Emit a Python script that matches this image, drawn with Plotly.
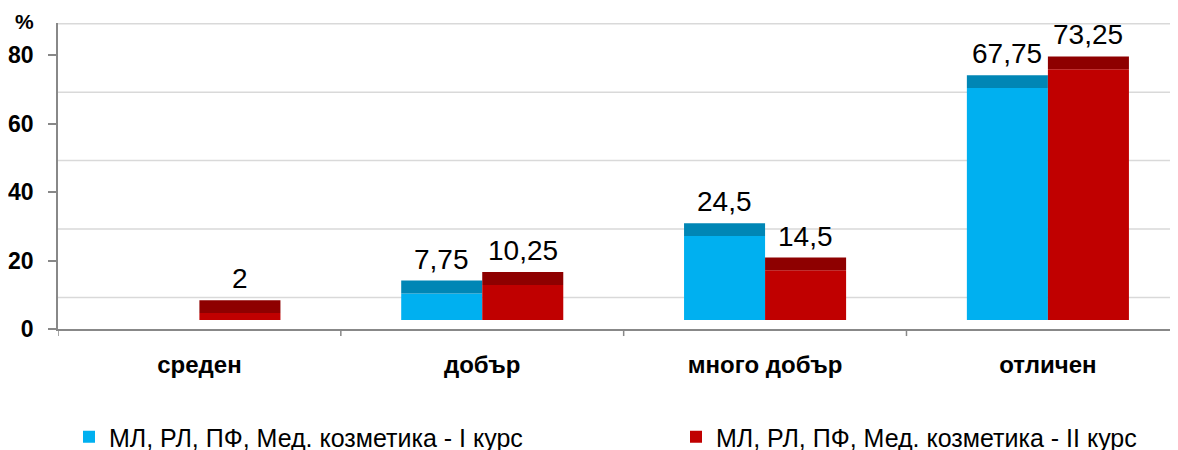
import plotly.graph_objects as go

categories = ["среден", "добър", "много добър", "отличен"]
series_names = ["МЛ, РЛ, ПФ, Мед. козметика - I курс", "МЛ, РЛ, ПФ, Мед. козметика - II курс"]
course1 = [0, 7.75, 24.5, 67.75]
course2 = [2, 10.25, 14.5, 73.25]
y_ticks = [0, 20, 40, 60, 80]

front_colors = ["#00B0F0", "#C00000"]
top_colors = ["#0086B5", "#8E0000"]

BASE = 2.64      # 3D floor offset
TOP = 3.75       # depth of the top face
GRID_OFF = 9.2   # back-wall gridline offset
W = 0.2865
YMAX = 89.4
LABEL_FONT = "Liberation Sans"

# the page body has an 8px margin; the figure is sized/placed to compensate
PAD = 8
FIG_W, FIG_H = 1178 - PAD, 450 - PAD

fig = go.Figure()
idx = list(range(len(categories)))
legend_ids = ["legend", "legend2"]
for s, (vals, name) in enumerate(zip([course1, course2], series_names)):
    off = -W if s == 0 else 0
    fig.add_trace(go.Bar(
        x=idx, y=[v if v > 0 else None for v in vals], base=[BASE] * len(vals), name=name,
        width=W, offset=off, legend=legend_ids[s],
        marker=dict(color=front_colors[s], line=dict(width=0)),
        showlegend=True, hoverinfo="skip",
    ))
    fig.add_trace(go.Bar(
        x=idx, y=[TOP if v > 0 else None for v in vals],
        base=[BASE + v for v in vals],
        width=W, offset=off, showlegend=False,
        marker=dict(color=top_colors[s], line=dict(width=0)),
        hoverinfo="skip",
    ))
    for i, v in enumerate(vals):
        if v > 0:
            fig.add_annotation(
                x=i + off + W / 2, y=BASE + v + TOP, xref="x", yref="y",
                text=f"{v:g}".replace(".", ","), showarrow=False,
                yanchor="bottom", yshift=4,
                font=dict(family=LABEL_FONT, size=28, color="#000"),
            )

for k in range(5):
    fig.add_shape(type="line", xref="paper", x0=0, x1=1, yref="y",
                  y0=GRID_OFF + 20 * k, y1=GRID_OFF + 20 * k,
                  line=dict(color="#D9D9D9", width=1.5), layer="below")

fig.add_annotation(text="<b>%</b>", xref="paper", yref="paper", x=-34 / 1120, y=1.0,
                   xanchor="center", yanchor="middle", yshift=2, showarrow=False,
                   font=dict(family="Liberation Sans", size=21, color="#000"))

legend_common = dict(
    orientation="h", xref="container", yref="container", xanchor="left",
    yanchor="middle", y=1 - (437 - PAD) / FIG_H,
    font=dict(family="Liberation Sans", size=25, color="#000"),
    bgcolor="rgba(0,0,0,0)",
)

fig.update_layout(
    width=FIG_W, height=FIG_H,
    margin=dict(l=58 - PAD, r=0, t=23 - PAD, b=FIG_H - (329 - PAD)),
    paper_bgcolor="white", plot_bgcolor="white",
    barmode="overlay",
    xaxis=dict(
        range=[-0.5, 3.46], tickmode="array", tickvals=idx, ticktext=[f"<b>{c}</b>" for c in categories],
        showgrid=False, showline=True, linecolor="#888888", linewidth=1.5,
        ticks="", zeroline=False, automargin=False,
        tickfont=dict(family="Liberation Sans", size=24, color="#000"),
        ticklabelstandoff=13,
    ),
    yaxis=dict(
        range=[0, YMAX], tickvals=y_ticks, ticktext=[f"<b>{t}</b>" for t in y_ticks],
        showgrid=False, showline=True, linecolor="#888888", linewidth=1.5,
        ticks="outside", ticklen=8, tickcolor="#888888", tickwidth=1.5,
        zeroline=False, ticklabelstandoff=10, automargin=False,
        tickfont=dict(family="Liberation Sans", size=23, color="#000"),
    ),
    legend=dict(x=(69 - PAD) / FIG_W, **legend_common),
    legend2=dict(x=(676 - PAD) / FIG_W, **legend_common),
    showlegend=True,
)

# category boundary ticks on x axis
for b in [-0.5, 0.5, 1.5, 2.5]:
    fig.add_shape(type="line", xref="x", yref="paper", x0=b, x1=b, y0=0, y1=-0.023,
                  line=dict(color="#888888", width=1.5))

fig.write_html("out.html")
